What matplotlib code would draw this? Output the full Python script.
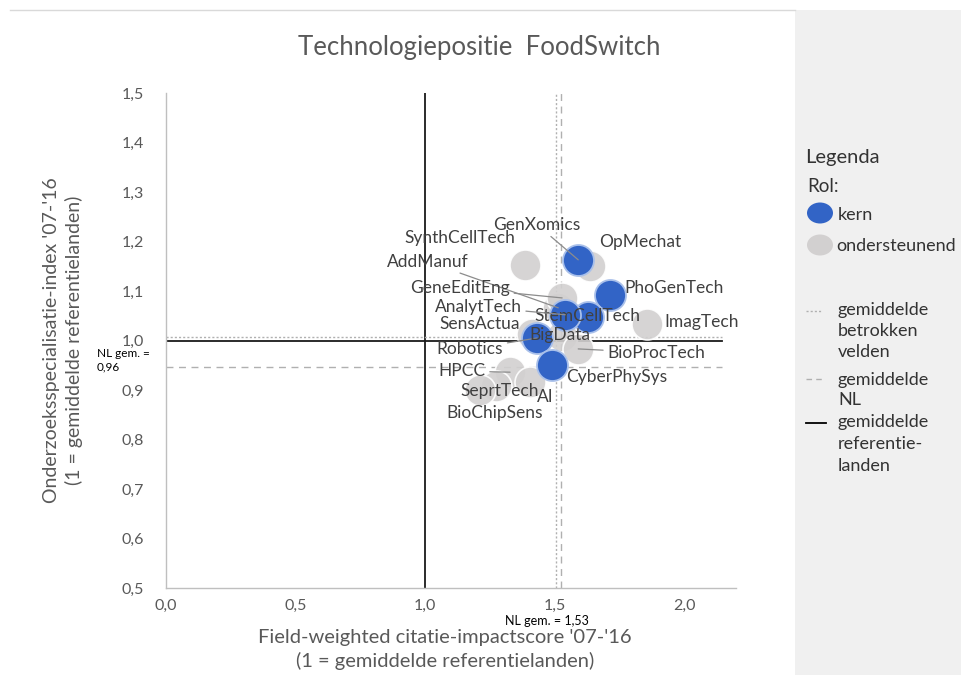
import matplotlib
matplotlib.use("Agg")
import matplotlib.pyplot as plt
from matplotlib.patches import Ellipse, Rectangle
from matplotlib.lines import Line2D
from matplotlib.ticker import FuncFormatter, MultipleLocator

plt.rcParams['font.family'] = ['Lato', 'DejaVu Sans']

# ---- data ----
kern_names = ["GenXomics", "PhoGenTech", "StemCellTech", "AnalytTech", "Robotics", "CyberPhySys"]
kern_x = [1.591, 1.714, 1.629, 1.541, 1.432, 1.490]
kern_y = [1.163, 1.092, 1.047, 1.052, 1.005, 0.951]

ond_names = ["OpMechat", "SynthCellTech", "AddManuf", "GeneEditEng", "ImagTech", "SensActua",
             "BigData", "BioProcTech", "HPCC", "AI", "SeprtTech", "BioChipSens"]
ond_x = [1.637, 1.386, 1.514, 1.529, 1.857, 1.413, 1.529, 1.591, 1.328, 1.405, 1.274, 1.212]
ond_y = [1.150, 1.153, 1.066, 1.086, 1.033, 1.013, 1.009, 0.983, 0.936, 0.916, 0.908, 0.900]

ref_x, ref_y = 1.0, 1.0           # gemiddelde referentielanden
veld_x, veld_y = 1.505, 1.0075    # gemiddelde betrokken velden
nl_x, nl_y = 1.524, 0.946         # gemiddelde NL (drawn position)
nl_x_label, nl_y_label = "1,53", "0,96"

x_ticks = [0.0, 0.5, 1.0, 1.5, 2.0]
y_ticks = [0.5, 0.6, 0.7, 0.8, 0.9, 1.0, 1.1, 1.2, 1.3, 1.4, 1.5]

# label offsets in pixels (dx, dy, leader)
label_style = {
    "GenXomics": (-41, 35, True), "PhoGenTech": (64, 7, False), "StemCellTech": (-1, 1, False),
    "AnalytTech": (-87, 8, True), "Robotics": (-67, -11, True), "CyberPhySys": (65, -12, False),
    "OpMechat": (50, 24, False), "SynthCellTech": (-65, 27, False), "AddManuf": (-130, 46, True),
    "GeneEditEng": (-102, 10, True), "ImagTech": (54, 2, False), "SensActua": (-52, 10, False),
    "BigData": (-2, 1, False), "BioProcTech": (78, -4, True), "HPCC": (-48, 1, True),
    "AI": (15, -15, False), "SeprtTech": (4, -5, False), "BioChipSens": (15, -23, False),
}

W, H = 962, 675
fig = plt.figure(figsize=(9.62, 6.75), dpi=100)
fig.patch.set_facecolor('white')

# right grey panel
fig.patches.append(Rectangle((795 / W, 0), (W - 795) / W, (H - 10) / H, transform=fig.transFigure,
                             facecolor='#f0f0f0', edgecolor='none', zorder=0))
fig.lines.append(Line2D([10 / W, 795 / W], [1 - 10 / H, 1 - 10 / H], transform=fig.transFigure,
                        color='#d9d9d9', lw=1))

ax = fig.add_axes([166 / W, 87 / H, 570 / W, 495 / H])
ax.set_xlim(0, 2.2)
ax.set_ylim(0.5, 1.5)
ax.set_facecolor('white')

for s in ['top', 'right']:
    ax.spines[s].set_visible(False)
for s in ['left', 'bottom']:
    ax.spines[s].set_color('#bfbfbf')
    ax.spines[s].set_linewidth(1)

ax.xaxis.set_major_locator(MultipleLocator(0.5))
ax.yaxis.set_major_locator(MultipleLocator(0.1))
fmt = FuncFormatter(lambda v, p: f"{v:.1f}".replace('.', ','))
ax.xaxis.set_major_formatter(fmt)
ax.yaxis.set_major_formatter(fmt)
ax.set_xticks(x_ticks)
ax.set_yticks(y_ticks)
ax.tick_params(axis='both', length=0, labelsize=11.5, labelcolor='#595959')
ax.tick_params(axis='y', pad=16)
ax.tick_params(axis='x', pad=8)

# reference lines
ax.axvline(ref_x, color='#1a1a1a', lw=1.3, zorder=1)
ax.axhline(ref_y, xmax=0.975, color='#1a1a1a', lw=1.3, zorder=1)
ax.axvline(veld_x, color='#b0b0b0', lw=1, ls=(0, (1.5, 1.5)), zorder=1)
ax.axhline(veld_y, xmax=0.975, color='#b0b0b0', lw=1, ls=(0, (1.5, 1.5)), zorder=1)
ax.axvline(nl_x, color='#b0b0b0', lw=1, ls=(0, (5, 4)), zorder=1)
ax.axhline(nl_y, xmax=0.975, color='#b0b0b0', lw=1, ls=(0, (5, 4)), zorder=1)

size = (31 * 0.72) ** 2
ax.scatter(ond_x, ond_y, s=size, c='#d2d0d0', edgecolors='white', linewidths=1.2, alpha=0.9, zorder=3)
ax.scatter(kern_x, kern_y, s=size, c='#3264c6', edgecolors='#a9c0ea', linewidths=1.3, zorder=4)

names = kern_names + ond_names
xs = kern_x + ond_x
ys = kern_y + ond_y
for n, x, y in zip(names, xs, ys):
    dx, dy, leader = label_style[n]
    kw = {}
    if leader:
        kw['arrowprops'] = dict(arrowstyle='-', color='#8c8c8c', lw=0.9, shrinkA=1, shrinkB=0)
    ax.annotate(n, xy=(x, y), xytext=(dx, dy), textcoords='offset pixels', ha='center', va='center',
                fontsize=12.5, color='#404040', zorder=5, **kw)

# NL annotations
ax.annotate(f"NL gem. = {nl_x_label}", xy=(nl_x, 0.5), xytext=(-14, -33), textcoords='offset pixels',
            ha='center', va='center', fontsize=9, color='black', annotation_clip=False)
ax.annotate(f"NL gem. =\n{nl_y_label}", xy=(0, nl_y), xytext=(-69, 7), textcoords='offset pixels',
            ha='left', va='center', fontsize=8.5, color='black', linespacing=1.2, annotation_clip=False)

ax.set_title("Technologiepositie  FoodSwitch", fontsize=18.5, color='#595959', pad=27, x=0.55)
ax.set_xlabel("Field-weighted citatie-impactscore '07-'16\n(1 = gemiddelde referentielanden)",
              fontsize=14.5, color='#595959', linespacing=1.4)
ax.xaxis.set_label_coords(0.49, -0.082)
ax.xaxis.label.set_va('top')
ax.set_ylabel("Onderzoeksspecialisatie-index '07-'16\n(1 = gemiddelde referentielanden)",
              fontsize=14, color='#595959', linespacing=1.3)
ax.yaxis.set_label_coords(-0.146, 0.5)

# legend (figure coordinates)
def fx(px):
    return px / W

def fy(py):
    return 1 - py / H

LEG = 13
TC = '#333333'
fig.text(fx(805), fy(158), "Legenda", fontsize=14.5, color=TC, va='center', ha='left')
fig.text(fx(807), fy(187), "Rol:", fontsize=13.5, color=TC, va='center', ha='left')
fig.patches.append(Ellipse((fx(820), fy(213)), 26 / W, 21 / H, transform=fig.transFigure,
                           facecolor='#3264c6', edgecolor='none'))
fig.text(fx(838), fy(215), "kern", fontsize=LEG, color=TC, va='center', ha='left')
fig.patches.append(Ellipse((fx(820), fy(245)), 26 / W, 21 / H, transform=fig.transFigure,
                           facecolor='#d2d0d0', edgecolor='none'))
fig.text(fx(836), fy(246), "ondersteunend", fontsize=LEG, color=TC, va='center', ha='left')

fig.lines.append(Line2D([fx(806), fx(822)], [fy(311), fy(311)], transform=fig.transFigure,
                        color='#b0b0b0', lw=1, ls=(0, (1.5, 1.5))))
fig.text(fx(838), fy(331), "gemiddelde\nbetrokken\nvelden", fontsize=LEG, color=TC,
         va='center', ha='left', linespacing=1.42)
fig.lines.append(Line2D([fx(806), fx(824)], [fy(379), fy(379)], transform=fig.transFigure,
                        color='#b0b0b0', lw=1, ls=(0, (4, 3))))
fig.text(fx(838), fy(390), "gemiddelde\nNL", fontsize=LEG, color=TC,
         va='center', ha='left', linespacing=1.28)
fig.lines.append(Line2D([fx(806), fx(826)], [fy(423), fy(423)], transform=fig.transFigure,
                        color='black', lw=1.3))
fig.text(fx(838), fy(444), "gemiddelde\nreferentie-\nlanden", fontsize=LEG, color=TC,
         va='center', ha='left', linespacing=1.45)

fig.savefig("out.png", dpi=100)
